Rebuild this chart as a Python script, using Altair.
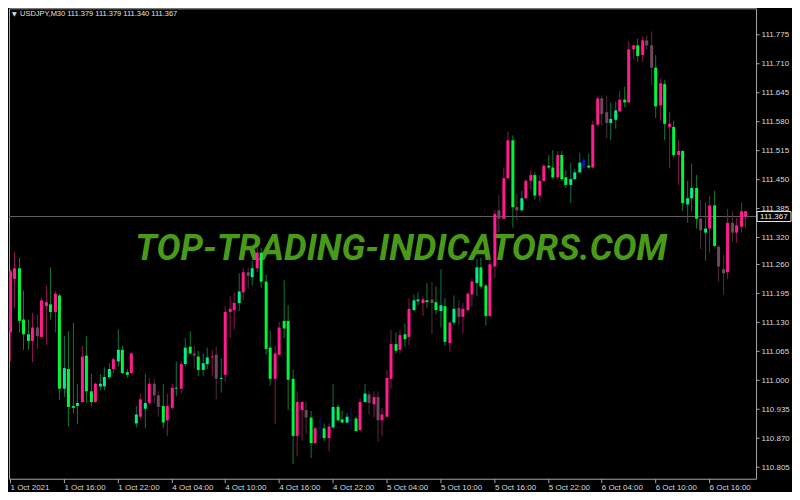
import altair as alt
import pandas as pd

symbol = "USDJPY,M30"
last_ohlc = [111.379, 111.379, 111.340, 111.367]
last_price = 111.367
watermark = "TOP-TRADING-INDICATORS.COM"

# candle colour class: g = green, t = aqua-green, p = pink, m = mauve, b = blue
tone = [
    "p","p","g","g","g","p","m","p","p","g","p","g","t","g","g","t","p","g","g","p",
    "t","t","t","p","t","g","g","p","t","p","t","p","m","m","g","p","p","t","p","t",
    "g","m","g","t","t","p","m","t","p","p","p","t","p","m","t","p","g","g","g","p",
    "p","g","g","g","p","p","m","g","p","b","g","p","t","g","g","t","b","g","p","t",
    "m","p","m","p","p","p","g","p","g","p","t","t","p","g","m","g","t","g","p","t",
    "m","p","p","p","t","g","g","p","p","m","p","p","g","m","t","p","p","g","p","p",
    "g","g","p","g","g","t","t","t","b","g","p","p","m","m","t","t","p","g","p","p",
    "g","p","m","m","g","p","g","p","g","p","g","t","t","g","m","t","p","g","m","m",
    "p","m","p","p","p",
]
open_ = [
    111.107,111.227,111.251,111.136,111.103,111.088,111.118,111.097,111.166,111.170,
    111.153,111.190,111.027,111.025,110.942,110.949,110.951,111.055,110.975,110.951,
    110.992,111.007,111.025,111.025,111.068,111.068,111.018,111.016,110.923,110.918,
    110.949,110.949,110.992,110.966,110.942,110.910,110.938,110.983,110.981,111.073,
    111.075,111.060,111.053,111.038,111.051,111.051,111.057,111.005,111.012,111.153,
    111.157,111.199,111.197,111.242,111.251,111.251,111.286,111.221,111.073,111.003,
    111.057,111.133,111.133,111.003,110.875,110.933,110.933,110.916,110.859,110.894,
    110.892,110.870,110.940,110.940,110.912,110.918,110.912,110.914,110.888,110.970,
    110.968,110.946,110.962,110.910,110.918,111.003,111.081,111.068,111.103,111.097,
    111.179,111.181,111.173,111.179,111.181,111.175,111.168,111.166,111.083,111.160,
    111.162,111.142,111.157,111.192,111.253,111.253,111.212,111.144,111.255,111.381,
    111.362,111.453,111.538,111.388,111.408,111.408,111.447,111.460,111.414,111.447,
    111.481,111.477,111.455,111.505,111.455,111.451,111.466,111.488,111.495,111.481,
    111.477,111.573,111.632,111.601,111.586,111.605,111.603,111.629,111.623,111.742,
    111.751,111.729,111.762,111.751,111.701,111.616,111.664,111.568,111.568,111.505,
    111.514,111.408,111.431,111.431,111.362,111.340,111.340,111.392,111.299,111.249,
    111.242,111.353,111.331,111.344,111.379,
]
high = [
    111.249,111.288,111.275,111.201,111.136,111.151,111.147,111.186,111.212,111.253,
    111.199,111.194,111.099,111.110,111.129,110.992,111.077,111.099,111.014,110.994,
    111.014,111.029,111.038,111.051,111.114,111.077,111.025,111.062,110.942,110.970,
    111.014,111.005,111.003,110.975,110.992,110.970,110.992,111.042,111.042,111.094,
    111.110,111.077,111.066,111.060,111.073,111.068,111.075,111.049,111.166,111.188,
    111.197,111.240,111.251,111.253,111.268,111.297,111.297,111.236,111.112,111.077,
    111.131,111.225,111.168,111.023,110.975,110.953,110.951,110.931,110.896,110.918,
    110.903,110.903,110.992,110.946,110.931,110.927,110.938,110.918,110.959,110.992,
    110.975,110.975,110.975,110.938,111.023,111.112,111.107,111.112,111.127,111.184,
    111.192,111.197,111.188,111.218,111.221,111.210,111.249,111.184,111.133,111.190,
    111.179,111.173,111.197,111.227,111.271,111.275,111.216,111.275,111.381,111.416,
    111.477,111.558,111.549,111.418,111.425,111.451,111.471,111.466,111.460,111.484,
    111.505,111.516,111.514,111.514,111.471,111.488,111.473,111.510,111.499,111.508,
    111.582,111.636,111.638,111.638,111.623,111.625,111.649,111.658,111.760,111.753,
    111.766,111.771,111.773,111.782,111.729,111.677,111.673,111.601,111.582,111.538,
    111.516,111.447,111.486,111.460,111.405,111.399,111.414,111.425,111.303,111.281,
    111.384,111.379,111.364,111.399,111.379,
]
low = [
    111.042,111.162,111.107,111.068,111.068,111.040,111.070,111.095,111.079,111.136,
    111.107,110.955,110.962,110.896,110.925,110.901,110.949,110.949,110.942,110.949,
    110.977,110.977,111.003,111.016,111.031,111.014,111.005,111.014,110.894,110.912,
    110.892,110.944,110.949,110.918,110.892,110.875,110.933,110.964,110.970,111.031,
    111.057,111.027,111.010,111.010,111.025,111.010,110.957,110.972,110.996,111.094,
    111.114,111.155,111.179,111.205,111.212,111.242,111.207,111.057,110.988,110.901,
    111.055,111.094,110.933,110.812,110.829,110.864,110.879,110.825,110.857,110.868,
    110.864,110.840,110.890,110.907,110.903,110.903,110.890,110.884,110.886,110.949,
    110.923,110.916,110.862,110.875,110.916,110.981,111.060,111.060,111.075,111.079,
    111.155,111.168,111.144,111.162,111.103,111.147,111.118,111.077,111.064,111.123,
    111.123,111.105,111.155,111.166,111.188,111.205,111.123,111.140,111.229,111.331,
    111.360,111.451,111.342,111.358,111.379,111.405,111.427,111.405,111.401,111.445,
    111.473,111.451,111.451,111.447,111.431,111.397,111.449,111.464,111.473,111.475,
    111.475,111.568,111.571,111.542,111.538,111.564,111.601,111.612,111.621,111.719,
    111.714,111.714,111.742,111.662,111.588,111.582,111.538,111.475,111.499,111.438,
    111.379,111.353,111.379,111.340,111.294,111.268,111.286,111.299,111.221,111.192,
    111.227,111.310,111.308,111.331,111.340,
]
close = [
    111.244,111.251,111.133,111.103,111.088,111.118,111.099,111.179,111.175,111.153,
    111.194,110.981,110.981,110.940,110.938,110.942,111.053,110.975,110.951,110.992,
    110.986,110.986,111.007,111.047,111.042,111.016,111.012,111.060,110.903,110.957,
    110.936,110.992,110.966,110.940,110.905,110.942,110.983,110.981,111.036,111.036,
    111.060,111.055,111.023,111.023,111.036,111.053,111.003,111.003,111.153,111.160,
    111.173,111.173,111.242,111.234,111.231,111.286,111.221,111.070,111.003,111.060,
    111.118,111.116,111.001,110.875,110.951,110.951,110.916,110.859,110.892,110.892,
    110.870,110.896,110.894,110.910,110.905,110.905,110.910,110.886,110.951,110.951,
    110.949,110.962,110.910,110.923,111.005,111.081,111.066,111.101,111.092,111.160,
    111.157,111.177,111.181,111.175,111.173,111.157,111.155,111.086,111.129,111.129,
    111.142,111.160,111.194,111.221,111.218,111.210,111.144,111.260,111.373,111.362,
    111.453,111.538,111.388,111.381,111.381,111.447,111.460,111.414,111.447,111.481,
    111.477,111.455,111.505,111.451,111.438,111.438,111.451,111.466,111.477,111.477,
    111.573,111.632,111.597,111.577,111.577,111.584,111.629,111.623,111.742,111.751,
    111.727,111.762,111.751,111.701,111.614,111.666,111.575,111.575,111.505,111.514,
    111.397,111.394,111.408,111.362,111.336,111.331,111.392,111.301,111.255,111.240,
    111.353,111.331,111.347,111.379,111.367,
]

price_ticks = [110.805, 110.870, 110.935, 111.000, 111.065, 111.130, 111.195, 111.260,
               111.320, 111.385, 111.450, 111.515, 111.580, 111.645, 111.710, 111.775]
time_labels = ["1 Oct 2021", "1 Oct 16:00", "1 Oct 22:00", "4 Oct 04:00", "4 Oct 10:00",
               "4 Oct 16:00", "4 Oct 22:00", "5 Oct 04:00", "5 Oct 10:00", "5 Oct 16:00",
               "5 Oct 22:00", "6 Oct 04:00", "6 Oct 10:00", "6 Oct 16:00"]
bars_per_label = 12

body_colors = {"g": "#00F53C", "t": "#00EE8C", "p": "#FF1C8E", "m": "#6C4A5C", "b": "#1414A8"}
wick_colors = {"g": "#0B7E2C", "t": "#0C7250", "p": "#8E1553", "m": "#4C2E3D", "b": "#10107E"}

W, H = 748, 471

df = pd.DataFrame({"bar": list(range(len(tone))), "open": open_, "high": high,
                   "low": low, "close": close, "tone": tone})
df["body_color"] = df["tone"].map(body_colors)
df["wick_color"] = df["tone"].map(wick_colors)

label_array = "[" + ",".join("'" + s + "'" for s in time_labels) + "]"
x_scale = alt.Scale(domain=[-0.22, 166.45], nice=False, zero=False, round=True, padding=0)
y_scale = alt.Scale(domain=[110.779, 111.834], nice=False, zero=False)

x_axis = alt.Axis(
    values=[i * bars_per_label for i in range(len(time_labels))],
    labelExpr=label_array + "[round(datum.value/" + str(bars_per_label) + ")]",
    labelAlign="left", labelPadding=1, tickSize=4, domain=False, grid=False,
    title=None, labelFlush=False, labelOverlap=False)
y_axis = alt.Axis(
    orient="right", values=price_ticks, format=".3f", tickSize=3,
    labelPadding=2, domain=False, grid=False, title=None, labelFlush=False,
    labelOverlap=False, labelBound=False)

base = alt.Chart(df)

wicks = base.mark_rule(strokeWidth=1, xOffset=0.5).encode(
    x=alt.X("bar:Q", scale=x_scale, axis=x_axis, title=None),
    y=alt.Y("low:Q", scale=y_scale, axis=y_axis, title=None),
    y2="high:Q",
    color=alt.Color("wick_color:N", scale=None),
)

bodies = base.mark_bar(size=3, xOffset=0.5).encode(
    x=alt.X("bar:Q", scale=x_scale, axis=x_axis, title=None),
    y=alt.Y("open:Q", scale=y_scale, axis=y_axis, title=None),
    y2="close:Q",
    color=alt.Color("body_color:N", scale=None),
)

line_df = pd.DataFrame({"price": [last_price]})
price_line = alt.Chart(line_df).mark_rule(color="#6A6065", strokeWidth=1).encode(
    y=alt.Y("price:Q", scale=y_scale, axis=y_axis, title=None))

price_box = alt.Chart(line_df).mark_rect(
    fill="#000000", stroke="#E8E8E8", strokeWidth=1, yOffset=-5, y2Offset=5).encode(
    x=alt.value(W + 1), x2=alt.value(W + 35),
    y=alt.Y("price:Q", scale=y_scale, axis=y_axis, title=None), y2=alt.Y2("price:Q"))
price_txt = alt.Chart(line_df).mark_text(
    align="left", baseline="middle", font="Liberation Sans", fontSize=8,
    color="#F0F0F0").encode(
    x=alt.value(W + 4), y=alt.Y("price:Q", scale=y_scale, axis=y_axis, title=None),
    text=alt.Text("price:Q", format=".3f"))

wm_df = pd.DataFrame({"t": [watermark]})
wm = alt.Chart(wm_df).mark_text(
    font="Roboto", fontSize=36, fontWeight="bold", fontStyle="italic",
    color="#4A9A1A", align="center", baseline="middle").encode(
    x=alt.value(W * 0.525), y=alt.value(H * 0.512), text="t:N")

hdr_df = pd.DataFrame({"t": [symbol + "  " + " ".join(f"{v:.3f}" for v in last_ohlc)]})
hdr = alt.Chart(hdr_df).mark_text(
    font="Liberation Sans", fontSize=7.5, color="#E0E0E0", align="left",
    baseline="middle").encode(x=alt.value(11), y=alt.value(6), text="t:N")
tri = alt.Chart(pd.DataFrame({"t": ["\u25BC"]})).mark_text(
    font="DejaVu Sans", fontSize=6, color="#E0E0E0", align="left",
    baseline="middle").encode(x=alt.value(3), y=alt.value(6), text="t:N")

chart = alt.layer(price_line, wm, wicks, bodies, hdr, tri, price_box, price_txt).properties(
    width=W, height=H, padding=0, background="#000000"
).configure_view(
    stroke="#A8A8A8", strokeWidth=1, fill="#000000"
).configure_axis(
    labelColor="#D8D8D8", labelFont="Liberation Sans", labelFontSize=8,
    tickColor="#A8A8A8", tickWidth=1, labelOverlap=False
)

chart.save("out.html", embed_options={"renderer": "svg", "actions": False})
